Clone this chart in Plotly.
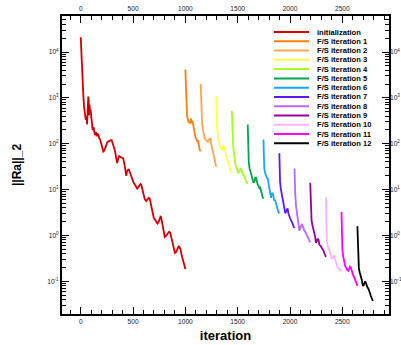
import plotly.graph_objects as go

# Residual history: initialization run followed by 12 fluid/structure iterations
series_names = [
    "initialization",
    "F/S iteration 1", "F/S iteration 2", "F/S iteration 3", "F/S iteration 4",
    "F/S iteration 5", "F/S iteration 6", "F/S iteration 7", "F/S iteration 8",
    "F/S iteration 9", "F/S iteration 10", "F/S iteration 11", "F/S iteration 12",
]

series_colors = [
    "#d40000", "#ff7f0a", "#ffa550", "#ffff4a", "#a6ff1a", "#00a650", "#1aa6ff",
    "#5a1aff", "#b36bff", "#990099", "#ffb3ff", "#ff00ff", "#000000",
]

# decade tick labels on the residual axis
y_tick_vals = [1e-1, 1e0, 1e1, 1e2, 1e3, 1e4]
y_tick_text = ["10<sup>-1</sup>", "10<sup>0</sup>", "10<sup>1</sup>",
               "10<sup>2</sup>", "10<sup>3</sup>", "10<sup>4</sup>"]

iter_init = [0, 6, 12, 19, 25, 32, 41, 48, 55, 61, 67, 72, 76, 80, 85, 89, 95, 101,
             108, 114, 122, 130, 136, 146, 152, 158, 168, 176, 184, 196, 208, 216,
             226, 240, 252, 263, 275, 288, 295, 305, 315, 327, 338, 349, 358, 368,
             380, 394, 406, 418, 428, 435, 442, 450, 458, 466, 476, 486, 498, 507,
             517, 530, 540, 552, 563, 571, 580, 592, 602, 612, 625, 638, 650, 660,
             670, 680, 690, 698, 710, 722, 733, 742, 752, 762, 768, 778, 790, 803,
             815, 830, 845, 855, 867, 878, 890, 900, 912, 925, 935, 944, 955, 968,
             982, 994, 1000]
res_init = [2.1e4, 8.9e3, 4.0e3, 2.45e3, 1.12e3, 631, 380, 331, 398, 263, 562, 1070,
            891, 417, 708, 447, 550, 380, 282, 200, 229, 178, 155, 178, 145, 166,
            158, 132, 126, 100, 79.4, 67.6, 70.8, 89.1, 105, 112, 117, 120, 120, 105,
            89.1, 70.8, 50.1, 38.0, 47.9, 53.7, 51.3, 50.1, 47.9, 35.5, 24.0, 20.0,
            25.1, 27.5, 28.2, 25.1, 21.4, 20.0, 15.8, 13.8, 12.9, 11.5, 10.5, 11.5,
            12.6, 13.2, 12.3, 9.55, 7.24, 6.17, 5.62, 6.03, 6.61, 6.31, 4.79, 3.55,
            2.75, 2.40, 2.19, 2.00, 1.82, 1.91, 2.29, 2.57, 2.51, 1.91, 1.32, 0.933,
            0.977, 1.10, 1.20, 1.15, 0.871, 0.603, 0.457, 0.417, 0.437, 0.525, 0.575,
            0.562, 0.479, 0.347, 0.263, 0.200, 0.186]

iter_fs1 = [1000, 1003, 1006, 1010, 1016, 1022, 1028, 1033, 1039, 1046, 1052, 1057,
            1063, 1068, 1073, 1080, 1088, 1098, 1106, 1113, 1120, 1126, 1132, 1138, 1146]
res_fs1 = [4170, 2000, 794, 457, 398, 355, 331, 288, 316, 275, 355, 331, 282, 316, 275,
           224, 158, 132, 126, 115, 120, 95.5, 79.4, 72.4, 69.2]

iter_fs2 = [1146, 1149, 1152, 1160, 1168, 1176, 1184, 1192, 1200, 1208, 1215, 1222,
            1230, 1238, 1246, 1254, 1262, 1270, 1278, 1287, 1295]
res_fs2 = [2000, 891, 501, 282, 200, 158, 132, 126, 115, 115, 110, 120, 126, 132, 100,
           79.4, 72.4, 60.3, 47.9, 38.0, 31.6]

iter_fs3 = [1295, 1298, 1303, 1311, 1320, 1330, 1343, 1352, 1360, 1367, 1374, 1382,
            1390, 1398, 1406, 1414, 1422, 1432, 1444]
res_fs3 = [1100, 501, 224, 132, 105, 89.1, 79.4, 72.4, 83.2, 89.1, 85.1, 63.1, 51.3,
           47.9, 39.8, 35.5, 31.6, 26.3, 22.4]

iter_fs4 = [1444, 1447, 1454, 1462, 1470, 1478, 1486, 1494, 1500, 1508, 1516, 1524,
            1533, 1541, 1549, 1557, 1565, 1573, 1581, 1590, 1596]
res_fs4 = [525, 251, 120, 70.8, 47.9, 36.3, 31.6, 26.3, 25.1, 22.4, 25.1, 28.2, 28.8,
           24.0, 20.9, 20.0, 19.1, 16.6, 14.8, 14.1, 13.5]

iter_fs5 = [1596, 1599, 1606, 1614, 1622, 1630, 1638, 1646, 1652, 1660, 1668, 1676,
            1684, 1692, 1700, 1708, 1716, 1724, 1732, 1739, 1746]
res_fs5 = [263, 100, 39.8, 28.2, 24.0, 21.4, 19.1, 15.8, 14.1, 14.8, 18.2, 18.2, 13.8,
           12.6, 12.0, 10.7, 11.0, 9.77, 7.94, 6.76, 6.31]

iter_fs6 = [1746, 1749, 1754, 1762, 1770, 1778, 1787, 1795, 1803, 1810, 1818, 1826,
            1833, 1840, 1848, 1856, 1864, 1872, 1882, 1890, 1898]
res_fs6 = [123, 56.2, 28.8, 22.9, 20.0, 18.2, 17.4, 13.2, 10.0, 8.32, 6.61, 7.94, 8.51,
           7.59, 5.75, 6.03, 5.01, 4.37, 3.55, 3.24, 3.02]

iter_fs7 = [1898, 1901, 1905, 1912, 1920, 1930, 1938, 1946, 1955, 1962, 1970, 1977,
            1985, 1993, 2002, 2010, 2018, 2026, 2034, 2043]
res_fs7 = [61.7, 28.2, 14.8, 10.5, 8.32, 6.92, 5.01, 3.63, 3.02, 3.31, 3.80, 3.89, 3.02,
           2.51, 2.34, 2.14, 2.00, 1.78, 1.58, 1.45]

iter_fs8 = [2043, 2046, 2050, 2058, 2066, 2074, 2082, 2090, 2098, 2106, 2114, 2122,
            2130, 2138, 2146, 2154, 2162, 2170, 2178, 2186, 2193]
res_fs8 = [28.8, 12.6, 7.94, 4.37, 3.02, 2.29, 1.58, 1.26, 1.45, 1.74, 1.78, 1.58, 1.38,
           1.26, 1.20, 1.10, 0.955, 0.871, 0.832, 0.776, 0.708]

iter_fs9 = [2193, 2196, 2200, 2206, 2214, 2222, 2231, 2240, 2248, 2253, 2260, 2266,
            2273, 2280, 2290, 2300, 2311, 2320, 2330, 2343]
res_fs9 = [14.1, 6.31, 3.16, 2.14, 1.66, 1.41, 1.26, 0.955, 0.692, 0.724, 0.794, 0.851,
           0.794, 0.631, 0.603, 0.562, 0.513, 0.468, 0.398, 0.339]

iter_fs10 = [2343, 2346, 2350, 2358, 2366, 2374, 2382, 2390, 2398, 2406, 2414, 2422,
             2430, 2438, 2444, 2452, 2460, 2468, 2476, 2484, 2492]
res_fs10 = [6.76, 2.24, 0.794, 0.631, 0.525, 0.479, 0.417, 0.363, 0.316, 0.316, 0.355,
            0.372, 0.302, 0.251, 0.224, 0.209, 0.200, 0.186, 0.174, 0.174, 0.170]

iter_fs11 = [2492, 2495, 2500, 2508, 2516, 2525, 2533, 2541, 2549, 2558, 2566, 2573,
             2581, 2589, 2596, 2603, 2612, 2620, 2628, 2636, 2644]
res_fs11 = [3.24, 1.26, 0.513, 0.355, 0.263, 0.224, 0.204, 0.186, 0.174, 0.170, 0.191,
            0.209, 0.200, 0.166, 0.151, 0.135, 0.126, 0.110, 0.0955, 0.0871, 0.0794]

iter_fs12 = [2644, 2647, 2651, 2658, 2666, 2676, 2684, 2692, 2698, 2705, 2712, 2718,
             2724, 2732, 2740, 2749, 2758, 2765, 2771, 2779, 2787, 2792]
res_fs12 = [1.58, 0.631, 0.245, 0.191, 0.158, 0.135, 0.112, 0.0891, 0.0794, 0.0832,
            0.0955, 0.100, 0.0933, 0.0794, 0.0741, 0.0692, 0.0631, 0.0550, 0.0490,
            0.0437, 0.0389, 0.0372]

iterations = [iter_init, iter_fs1, iter_fs2, iter_fs3, iter_fs4, iter_fs5, iter_fs6,
              iter_fs7, iter_fs8, iter_fs9, iter_fs10, iter_fs11, iter_fs12]
residuals = [res_init, res_fs1, res_fs2, res_fs3, res_fs4, res_fs5, res_fs6,
             res_fs7, res_fs8, res_fs9, res_fs10, res_fs11, res_fs12]

FONT = "Arial, Liberation Sans, sans-serif"
W, H = 401, 345
ML, MR, MT, MB = 62, 12, 16, 31
PW, PH = W - ML - MR, H - MT - MB

fig = go.Figure()
for name, color, xs, ys in zip(series_names, series_colors, iterations, residuals):
    fig.add_trace(go.Scatter(x=xs, y=ys, mode="lines", name=name,
                             line=dict(color=color, width=1.8), showlegend=False))

# empty trace so the top / right axes get drawn with labels
fig.add_trace(go.Scatter(x=[None], y=[None], xaxis="x2", yaxis="y2", mode="lines",
                         line=dict(color="black"), showlegend=False, hoverinfo="skip"))

x_range = [-179, 2946]
y_range = [-1.713, 4.785]
tick_font = dict(family=FONT, size=6.6, color="#1a1a1a")

x_common = dict(range=x_range, tick0=0, dtick=500, ticks="inside", ticklen=7,
                tickwidth=1.3, tickcolor="black", color="#1a1a1a", showgrid=False,
                zeroline=False, automargin=False, tickfont=tick_font,
                minor=dict(dtick=100, ticks="inside", ticklen=4, tickwidth=1,
                           tickcolor="black", showgrid=False))
y_common = dict(type="log", range=y_range, tickmode="array", tickvals=y_tick_vals,
                ticktext=y_tick_text, ticks="inside", ticklen=7, tickwidth=1.3,
                tickcolor="black", color="#1a1a1a", showgrid=False, zeroline=False,
                automargin=False, tickfont=tick_font,
                minor=dict(dtick="D1", ticks="inside", ticklen=4, tickwidth=1,
                           tickcolor="black", showgrid=False))

fig.update_layout(
    template="none",
    width=W, height=H,
    margin=dict(l=ML, r=MR, t=MT, b=MB, pad=0),
    paper_bgcolor="white", plot_bgcolor="white",
    showlegend=False,
    xaxis=dict(**x_common, showline=True, linewidth=2, linecolor="black",
               mirror=True,
               title=dict(text="<b>iteration</b>", standoff=7,
                          font=dict(family=FONT, size=13, color="black"))),
    xaxis2=dict(**x_common, overlaying="x", side="top", showline=False,
                ticklabelstandoff=3),
    yaxis=dict(**y_common, showline=True, linewidth=2, linecolor="black",
               mirror=True,
               title=dict(text="<b>||Ra||_2</b>", standoff=23,
                          font=dict(family=FONT, size=12, color="black"))),
    yaxis2=dict(**y_common, overlaying="y", side="right", showline=False),
)

# Legend drawn as line samples and labels in the upper right of the plot area
row0, row_step = 32.0, 9.28
for i, (name, color) in enumerate(zip(series_names, series_colors)):
    yp = (H - MB - (row0 + i * row_step)) / PH
    fig.add_shape(type="line", xref="paper", yref="paper",
                  x0=(274 - ML) / PW, x1=(309 - ML) / PW, y0=yp, y1=yp,
                  line=dict(color=color, width=2))
    fig.add_annotation(xref="paper", yref="paper", x=(315 - ML) / PW, y=yp,
                       text=f"<b>{name}</b>", showarrow=False, xanchor="left",
                       yanchor="middle", font=dict(family=FONT, size=7.6, color="black"))

fig.write_html("out.html", config={"displayModeBar": False})
